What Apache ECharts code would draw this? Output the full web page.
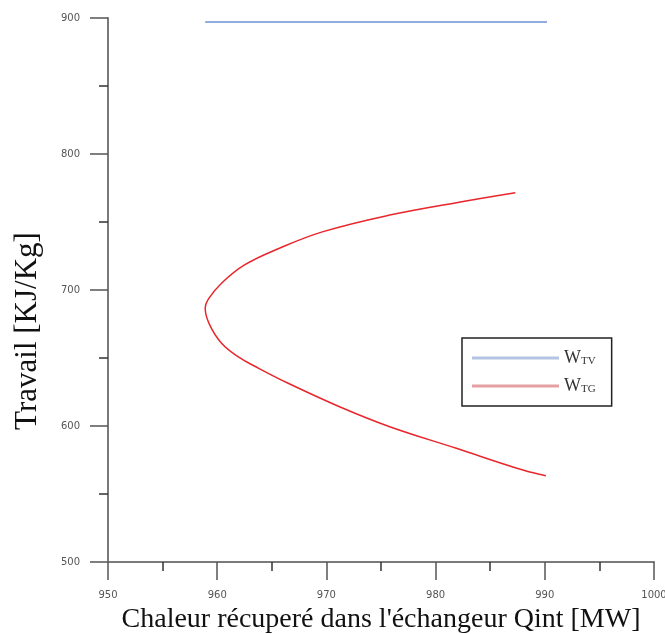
<!DOCTYPE html>
<html>
<head>
<meta charset="utf-8">
<script src="https://cdn.jsdelivr.net/npm/echarts@6/dist/echarts.min.js"></script>
<style>
    html, body { margin: 0; padding: 0; background: #fff; }
    #chart { width: 665px; height: 634px; }
</style>
</head>
<body>
<div id="chart"></div>
<script>
    // W_TV : horizontal line
    var wtvX = [958.9, 990.2];
    var wtvY = [897, 897];

    // W_TG : curve, read from top end to bottom end
    var wtgX = [987.3, 981.9, 975.8, 969.7, 965.7, 962.5, 960.4, 959.2, 958.9, 959.3, 960.4, 961.9, 963.8, 966.5, 971.2, 975.8, 981.9, 988.0, 990.1];
    var wtgY = [771.5, 764.2, 755.1, 742.9, 730.7, 718.4, 705.0, 693.5, 686.5, 674.5, 660.8, 651.0, 642.4, 631.4, 614.2, 599.5, 583.6, 567.6, 563.5];

    var xTicks = [950, 960, 970, 980, 990, 1000];
    var yTicks = [500, 600, 700, 800, 900];

    function pairs(xs, ys) {
        var out = [];
        for (var i = 0; i < xs.length; i++) {
            out.push([xs[i], ys[i]]);
        }
        return out;
    }

    var chart = echarts.init(document.getElementById('chart'));

    var axisCommon = {
        type: 'value',
        splitLine: {show: false},
        axisLine: {show: true, lineStyle: {color: '#7a7a7a', width: 2}},
        axisTick: {show: true, length: 18, lineStyle: {color: '#555', width: 1.5}},
        minorTick: {show: true, splitNumber: 2, length: 9, lineStyle: {color: '#333', width: 1.5}},
        axisLabel: {
            color: '#555', fontSize: 10, fontFamily: 'DejaVu Sans', margin: 28,
            formatter: function (v) { return String(v); }
        }
    };

    var option = {
        animation: false,
        backgroundColor: '#fff',
        grid: {left: 108, right: 11, top: 18, bottom: 72, outerBoundsMode: 'none'},
        xAxis: Object.assign({}, axisCommon, {
            min: xTicks[0],
            max: xTicks[xTicks.length - 1],
            interval: 10,
            name: "Chaleur récuperé dans l'échangeur Qint [MW]",
            nameLocation: 'middle',
            nameGap: 44,
            nameTextStyle: {fontFamily: 'Liberation Serif', fontSize: 28, color: '#111'}
        }),
        yAxis: Object.assign({}, axisCommon, {
            min: yTicks[0],
            max: yTicks[yTicks.length - 1],
            interval: 100
        }),
        graphic: [{
            type: 'text',
            x: 28,
            y: 331,
            rotation: Math.PI / 2,
            style: {
                text: 'Travail [KJ/Kg]',
                font: '31px "Liberation Serif"',
                fill: '#111',
                align: 'center',
                verticalAlign: 'middle'
            }
        }],
        legend: {
            orient: 'vertical',
            left: 462,
            top: 338,
            padding: [11, 16, 11, 10],
            itemGap: 10,
            itemWidth: 87,
            itemHeight: 3,
            icon: 'rect',
            borderColor: '#222',
            borderWidth: 1.5,
            data: [
                {name: 'WTV', itemStyle: {color: '#b3c4e4'}},
                {name: 'WTG', itemStyle: {color: '#e6a0a3'}}
            ],
            formatter: function (name) {
                return '{w|W}{s|' + name.slice(1) + '}';
            },
            textStyle: {
                rich: {
                    w: {fontFamily: 'Liberation Serif', fontSize: 18, color: '#333', lineHeight: 18, verticalAlign: 'bottom'},
                    s: {fontFamily: 'Liberation Serif', fontSize: 11, color: '#333', lineHeight: 12, verticalAlign: 'bottom'}
                }
            }
        },
        series: [{
            name: 'WTV',
            type: 'line',
            symbol: 'none',
            data: pairs(wtvX, wtvY),
            lineStyle: {color: '#93ace0', width: 2},
            itemStyle: {color: '#93ace0'}
        }, {
            name: 'WTG',
            type: 'line',
            symbol: 'none',
            smooth: 0.4,
            data: pairs(wtgX, wtgY),
            lineStyle: {color: '#e8262b', width: 1.5},
            itemStyle: {color: '#e8262b'}
        }]
    };

    chart.setOption(option);
</script>
</body>
</html>
